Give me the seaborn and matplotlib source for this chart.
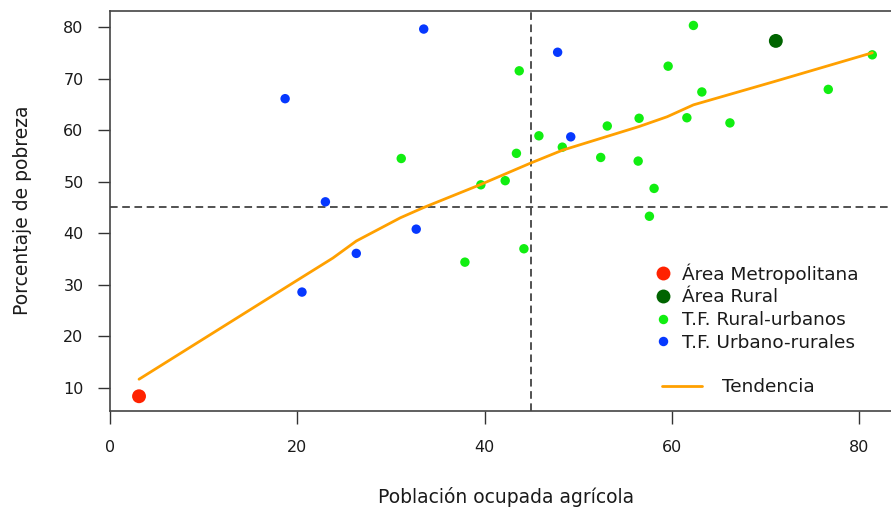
import matplotlib
matplotlib.use("Agg")
import matplotlib.pyplot as plt
from matplotlib.lines import Line2D
import seaborn as sns
import pandas as pd

# ---------------- data ----------------
groups = ["Área Metropolitana", "Área Rural", "T.F. Rural-urbanos", "T.F. Urbano-rurales"]
group_colors = ["#FF2200", "#006400", "#11EE11", "#0638FF"]

metro_x = [3.1]
metro_y = [8.4]

rural_x = [71.1]
rural_y = [77.3]

rurb_x = [62.3, 59.6, 63.2, 81.4, 76.7, 53.1, 56.5, 61.6, 66.2, 52.4, 56.4,
          58.1, 57.6, 43.7, 31.1, 45.8, 48.3, 43.4, 42.2, 39.6, 44.2, 37.9]
rurb_y = [80.3, 72.4, 67.4, 74.6, 67.9, 60.8, 62.3, 62.4, 61.4, 54.7, 54.0,
          48.7, 43.3, 71.5, 54.5, 58.9, 56.7, 55.5, 50.2, 49.4, 37.0, 34.4]

urbr_x = [18.7, 33.5, 23.0, 32.7, 26.3, 20.5, 47.8, 49.2]
urbr_y = [66.1, 79.6, 46.1, 40.8, 36.1, 28.6, 75.1, 58.7]

trend_x = [3.1, 20.0, 23.8, 26.3, 31.0, 33.5, 39.5, 44.9, 48.3, 52.4, 56.5,
           59.5, 62.3, 70.9, 81.4]
trend_y = [11.7, 30.9, 35.2, 38.5, 43.0, 45.0, 49.4, 53.6, 56.1, 58.4, 60.7,
           62.6, 64.9, 69.4, 75.0]

x_ticks = [0, 20, 40, 60, 80]
y_ticks = [10, 20, 30, 40, 50, 60, 70, 80]
cut_x = 45
cut_y = 45

x_label = "Población ocupada agrícola"
y_label = "Porcentaje de pobreza"
trend_label = "Tendencia"

# ---------------- build table ----------------
frames = []
for name, xs, ys in zip(groups,
                        [metro_x, rural_x, rurb_x, urbr_x],
                        [metro_y, rural_y, rurb_y, urbr_y]):
    frames.append(pd.DataFrame({"x": xs, "y": ys, "grupo": name}))
df = pd.concat(frames, ignore_index=True)
trend = pd.DataFrame({"x": trend_x, "y": trend_y})

# ---------------- style ----------------
sns.set_theme(style="white")
plt.rcParams["font.family"] = ["DejaVu Sans"]
text_color = "#1a1a1a"

W, H = 891, 511
fig = plt.figure(figsize=(W / 100, H / 100), dpi=100)
ax = fig.add_axes([110 / W, 100 / H, 796 / W, 400 / H])

palette = dict(zip(groups, group_colors))
big = {"Área Metropolitana": 100, "Área Rural": 100,
       "T.F. Rural-urbanos": 46, "T.F. Urbano-rurales": 46}

sns.scatterplot(data=df, x="x", y="y", hue="grupo", palette=palette,
                size="grupo", sizes=big, linewidth=0, legend=False,
                ax=ax, zorder=3)

ax.axvline(cut_x, color="#222222", lw=1.1, ls=(0, (5, 3)), zorder=2)
ax.axhline(cut_y, color="#222222", lw=1.1, ls=(0, (5, 3)), zorder=2)

sns.lineplot(data=trend, x="x", y="y", sort=False, color="#FFA000",
             lw=2.0, ax=ax, zorder=4)

ax.set_xlim(0, 85)
ax.set_ylim(5.54, 83.1)
ax.set_xticks(x_ticks)
ax.set_yticks(y_ticks)
ax.tick_params(axis="both", direction="out", length=9, width=1.0,
               color="#333333", labelcolor=text_color, labelsize=11.5)
ax.tick_params(axis="x", pad=12)
ax.tick_params(axis="y", pad=10)
ax.tick_params(axis="both", which="both", bottom=True, left=True)
for sp in ax.spines.values():
    sp.set_color("#444444")
    sp.set_linewidth(1.2)
    sp.set_visible(True)

ax.set_xlabel(x_label, fontsize=13.5, color=text_color)
ax.set_ylabel(y_label, fontsize=13.5, color=text_color)
ax.xaxis.set_label_coords((505.5 - 109.7) / 796, -0.19)
ax.yaxis.set_label_coords(-0.098, 0.5025)

# ---------------- legends ----------------
handles = []
for name, col in zip(groups, group_colors):
    ms = 10 if big[name] > 50 else 6.8
    handles.append(Line2D([], [], marker="o", ls="none", color=col,
                          markersize=ms, markeredgewidth=0, label=name))
leg1 = fig.legend(handles=handles, loc="center left",
                  bbox_to_anchor=(653.7 / W, 1 - 307.5 / H),
                  frameon=False, fontsize=13.3, handlelength=1.0,
                  handletextpad=0.52, labelspacing=0.25, borderpad=0,
                  borderaxespad=0)
for t in leg1.get_texts():
    t.set_color(text_color)

line_handle = Line2D([], [], color="#FFA000", lw=2.0, label=trend_label)
leg2 = fig.legend(handles=[line_handle], loc="center left",
                  bbox_to_anchor=(662 / W, 1 - 387 / H),
                  frameon=False, fontsize=13.3, handlelength=2.16,
                  handletextpad=1.08, borderpad=0, borderaxespad=0)
for t in leg2.get_texts():
    t.set_color(text_color)

fig.savefig("out.png", dpi=100)
